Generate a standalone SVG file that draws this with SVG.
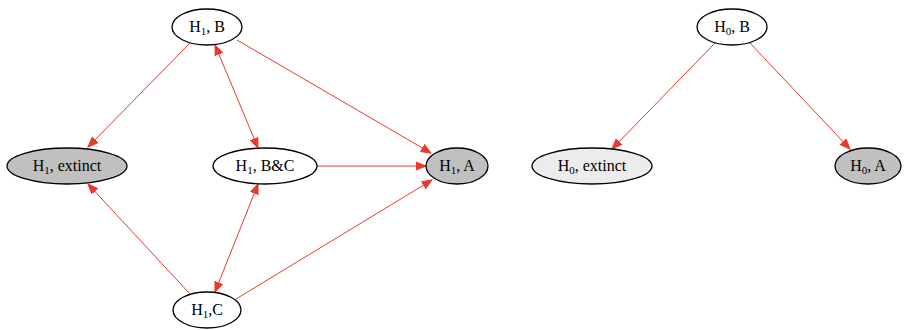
<svg xmlns="http://www.w3.org/2000/svg" width="905" height="330" viewBox="0 0 905 330">
<style>
.n ellipse{stroke:#000;stroke-width:1.3;fill:#fff}
.n.g ellipse{fill:#c0c0c0}
.n.l ellipse{fill:#ececec}
text{font-family:"Liberation Serif","Times New Roman",serif;font-size:16px;fill:#000;text-anchor:middle}
.s{font-size:11px}
#edges path{stroke:#e8392b;stroke-width:1;fill:none;marker-end:url(#ah)}
#edges path.d{marker-start:url(#ahs)}
</style>
<defs>
<marker id="ah" markerUnits="userSpaceOnUse" markerWidth="12" markerHeight="10" refX="10" refY="4" orient="auto" viewBox="0 0 12 8">
<path d="M0,0 L10,4 L0,8 Z" fill="#e8392b" stroke="#e8392b"/>
</marker>
<marker id="ahs" markerUnits="userSpaceOnUse" markerWidth="12" markerHeight="10" refX="10" refY="4" orient="auto-start-reverse" viewBox="0 0 12 8">
<path d="M0,0 L10,4 L0,8 Z" fill="#e8392b" stroke="#e8392b"/>
</marker>
</defs>
<rect width="905" height="330" fill="#fff"/>
<g id="edges">
<path d="M190,43 L88,147"/>
<path class="d" d="M215,45 L258,148"/>
<path d="M237,40 L431,153"/>
<path d="M317,166 L426,166"/>
<path d="M190,294 L88,184"/>
<path class="d" d="M258,184 L215,292"/>
<path d="M236,299 L432,180"/>
<path d="M716,42 L612,149"/>
<path d="M749,42 L850,149"/>
</g>
<g id="h1b" class="n"><ellipse cx="207" cy="27" rx="35" ry="18"/><text x="207" y="32">H<tspan class="s" dy="3">1</tspan><tspan dy="-3">, B</tspan></text></g>
<g id="h1ext" class="n g"><ellipse cx="67" cy="166" rx="60" ry="18"/><text x="67" y="171">H<tspan class="s" dy="3">1</tspan><tspan dy="-3">, extinct</tspan></text></g>
<g id="h1bc" class="n"><ellipse cx="265" cy="166" rx="52" ry="18"/><text x="265" y="171">H<tspan class="s" dy="3">1</tspan><tspan dy="-3">, B&amp;C</tspan></text></g>
<g id="h1a" class="n g"><ellipse cx="457" cy="166" rx="31" ry="18"/><text x="457" y="171">H<tspan class="s" dy="3">1</tspan><tspan dy="-3">, A</tspan></text></g>
<g id="h1c" class="n"><ellipse cx="207" cy="310" rx="34" ry="18"/><text x="207" y="315">H<tspan class="s" dy="3">1</tspan><tspan dy="-3">,C</tspan></text></g>
<g id="h0b" class="n"><ellipse cx="732" cy="27" rx="35" ry="18"/><text x="732" y="32">H<tspan class="s" dy="3">0</tspan><tspan dy="-3">, B</tspan></text></g>
<g id="h0ext" class="n l"><ellipse cx="592" cy="166" rx="60" ry="18"/><text x="592" y="171">H<tspan class="s" dy="3">0</tspan><tspan dy="-3">, extinct</tspan></text></g>
<g id="h0a" class="n g"><ellipse cx="868" cy="166" rx="33" ry="18"/><text x="868" y="171">H<tspan class="s" dy="3">0</tspan><tspan dy="-3">, A</tspan></text></g>
</svg>
